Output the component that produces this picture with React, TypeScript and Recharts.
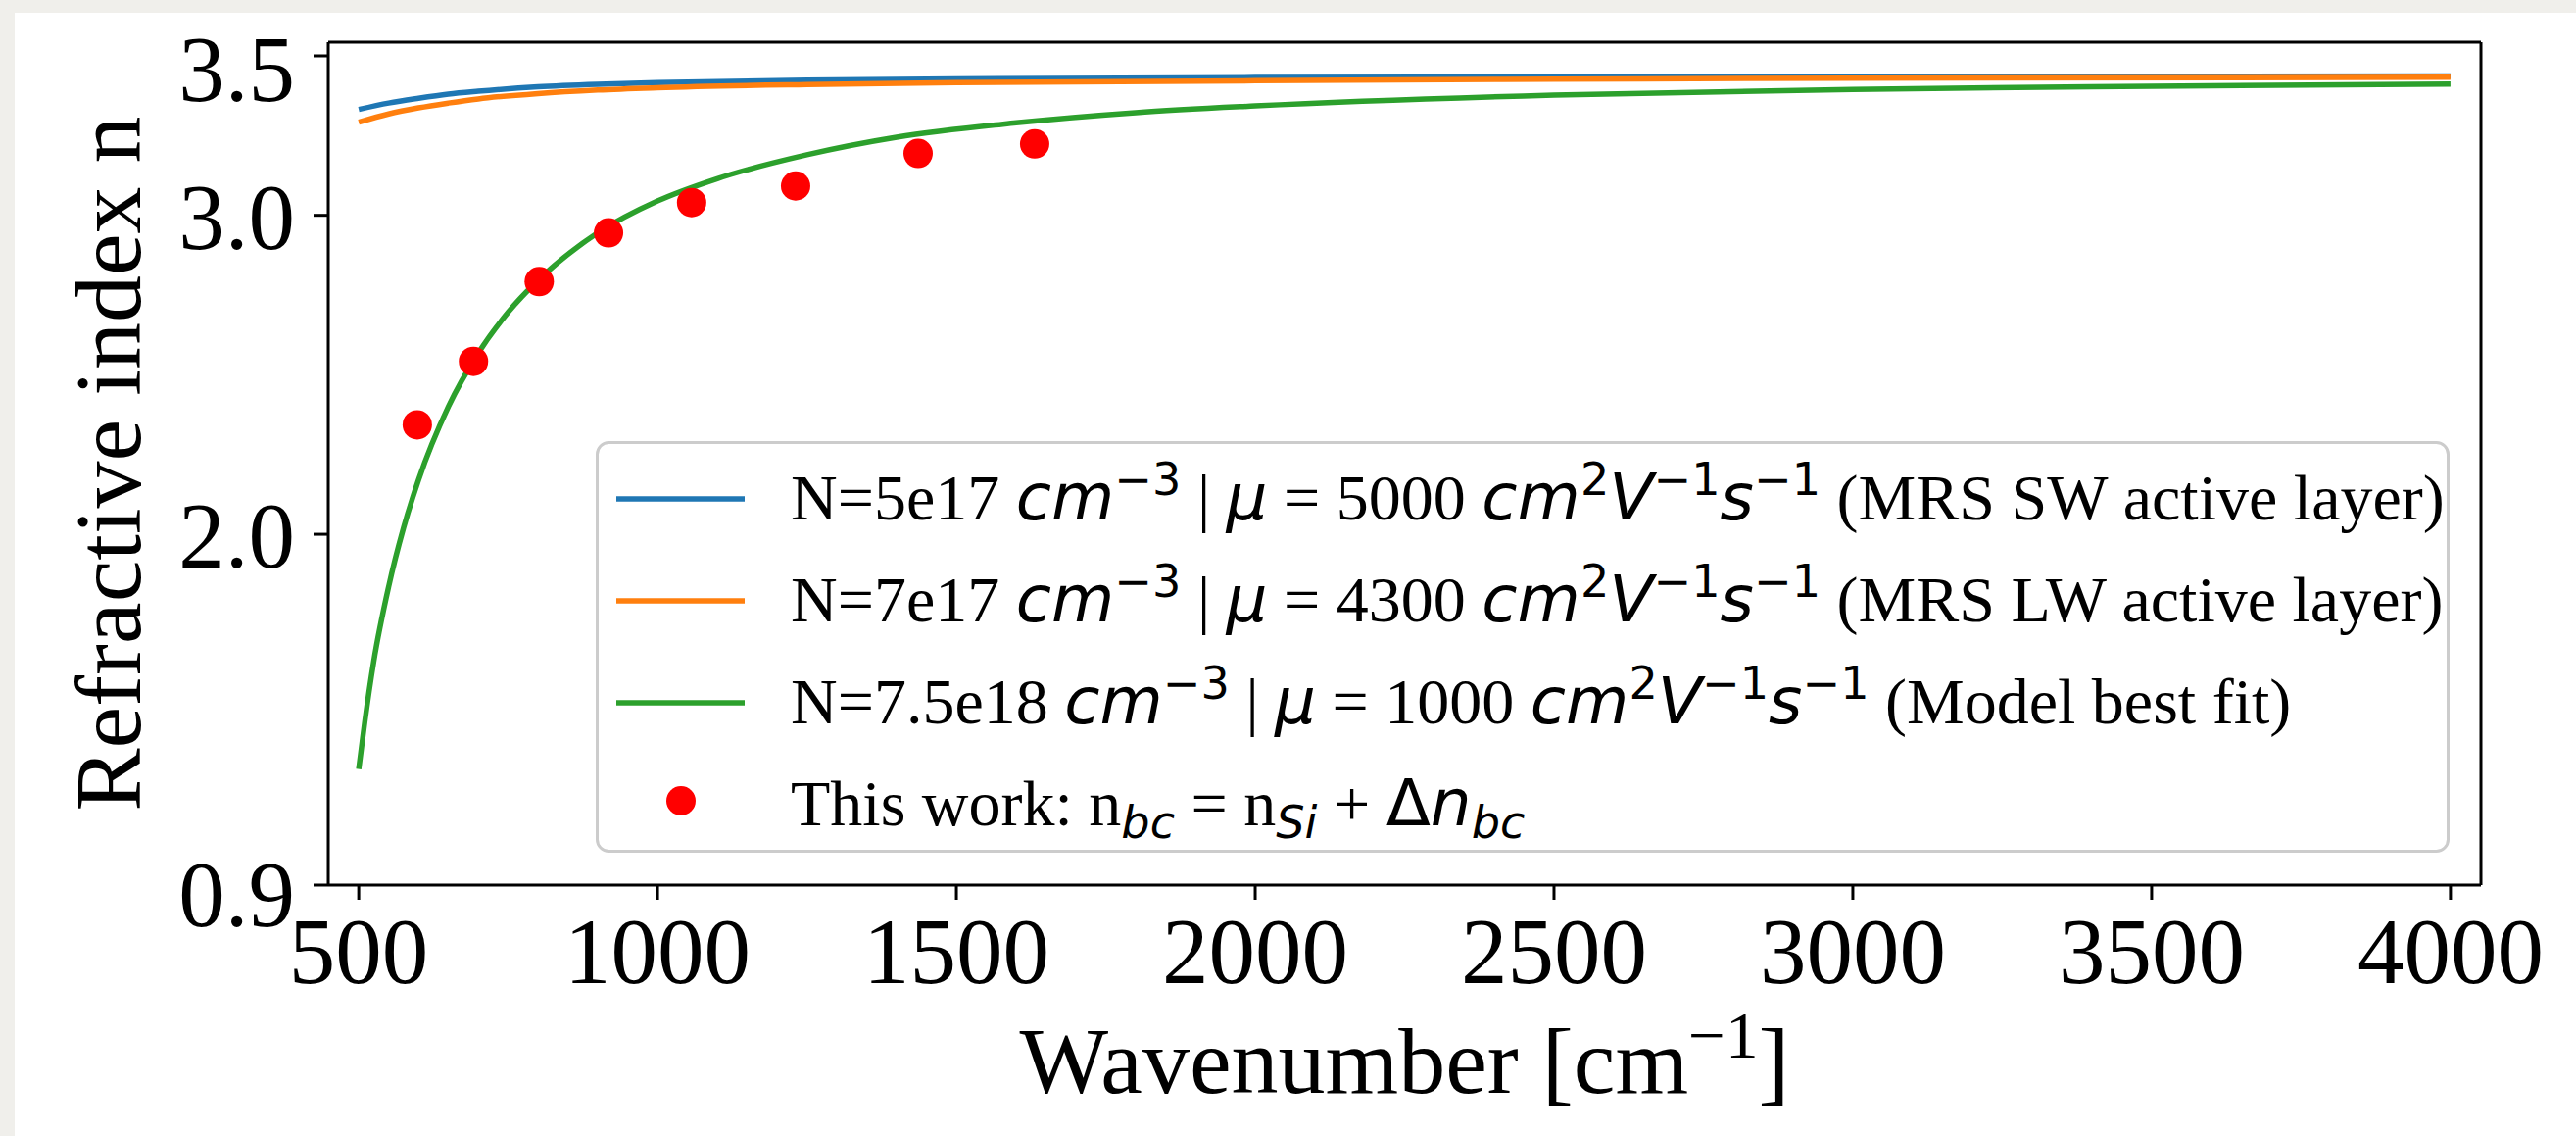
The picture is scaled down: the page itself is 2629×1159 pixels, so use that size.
import React from "react";
import { ComposedChart, Line, Scatter, XAxis, YAxis, Legend, ReferenceLine } from "recharts";

// wavenumber grid [cm^-1] for the two MRS curves
const mrsWavenumber = [500, 550, 600, 650, 700, 800, 900, 1000, 1250, 1500, 2000, 2500, 3000, 4000];
const nSW = [3.332, 3.352, 3.367, 3.38, 3.389, 3.403, 3.411, 3.416, 3.424, 3.428, 3.432, 3.434, 3.435, 3.437];
const nLW = [3.292, 3.318, 3.337, 3.352, 3.365, 3.382, 3.393, 3.4, 3.41, 3.416, 3.422, 3.427, 3.43, 3.433];

// model best fit, denser near the cut-off
const fitWavenumber = [500, 510, 525, 550, 575, 600, 650, 700, 750, 800, 900, 1000, 1100, 1250, 1400, 1600, 1800, 2000, 2500, 3000, 3500, 4000];
const nFit = [1.264, 1.41, 1.6, 1.835, 2.02, 2.17, 2.4, 2.568, 2.696, 2.796, 2.945, 3.045, 3.115, 3.19, 3.245, 3.29, 3.322, 3.343, 3.377, 3.395, 3.405, 3.412];

// this work
const measWavenumber = [598, 692, 802, 918, 1057, 1231, 1436, 1631];
const nMeas = [2.343, 2.542, 2.792, 2.945, 3.04, 3.092, 3.194, 3.224];

const xTicks = [500, 1000, 1500, 2000, 2500, 3000, 3500, 4000];
const yTicks = [0.9, 2.0, 3.0, 3.5];

const X_DOMAIN: [number, number] = [449, 4051];
const Y_DOMAIN: [number, number] = [0.9, 3.543];

const toRows = (xs: number[], ys: number[]) => xs.map((x, i) => ({ x, n: ys[i] }));

const swData = toRows(mrsWavenumber, nSW);
const lwData = toRows(mrsWavenumber, nLW);
const fitData = toRows(fitWavenumber, nFit);
const measData = toRows(measWavenumber, nMeas);

const SERIF = "'Liberation Serif', 'DejaVu Serif', serif";
const MATH = "'DejaVu Sans', sans-serif";

type Seg = { t: string; math?: boolean; up?: boolean; sup?: boolean; sub?: boolean };

const RichText = ({ x, y, segs, size, anchor }: { x: number; y: number; segs: Seg[]; size: number; anchor?: string }) => {
  let shift = 0;
  return (
    <text x={x} y={y} fontSize={size} fontFamily={SERIF} fill="#000" textAnchor={anchor} style={{ whiteSpace: "pre" }}>
      {segs.map((s, i) => {
        const target = s.sup ? -size * 0.38 : s.sub ? size * 0.2 : 0;
        const dy = target - shift;
        shift = target;
        return (
          <tspan
            key={i}
            dy={dy}
            fontSize={s.sup || s.sub ? size * 0.7 : size}
            fontFamily={s.math ? MATH : SERIF}
            fontStyle={s.math && !s.up ? "italic" : "normal"}
          >
            {s.t}
          </tspan>
        );
      })}
    </text>
  );
};

const mobility: Seg[] = [
  { t: "cm", math: true },
  { t: "2", math: true, up: true, sup: true },
  { t: "V", math: true },
  { t: "−1", math: true, up: true, sup: true },
  { t: "s", math: true },
  { t: "−1", math: true, up: true, sup: true },
];

const density = (n: string): Seg[] => [
  { t: `N=${n} ` },
  { t: "cm", math: true },
  { t: "−3", math: true, up: true, sup: true },
  { t: " | " },
  { t: "μ", math: true },
  { t: " = " },
];

const legendItems = [
  { color: "#1f77b4", kind: "line", segs: [...density("5e17"), { t: "5000 " }, ...mobility, { t: " (MRS SW active layer)" }] },
  { color: "#ff7f0e", kind: "line", segs: [...density("7e17"), { t: "4300 " }, ...mobility, { t: " (MRS LW active layer)" }] },
  { color: "#2ca02c", kind: "line", segs: [...density("7.5e18"), { t: "1000 " }, ...mobility, { t: " (Model best fit)" }] },
  {
    color: "#ff0000",
    kind: "dot",
    segs: [
      { t: "This work: n" },
      { t: "bc", math: true, sub: true },
      { t: " = n" },
      { t: "Si", math: true, sub: true },
      { t: " + " },
      { t: "Δ", math: true, up: true },
      { t: "n", math: true },
      { t: "bc", math: true, sub: true },
    ] as Seg[],
  },
];

const LegendBox = () => (
  <svg width={1892} height={420} style={{ display: "block" }}>
    <rect x={1.5} y={1.5} width={1889} height={417} rx={12} fill="#fff" fillOpacity={0.8} stroke="#cccccc" strokeWidth={3} />
    {legendItems.map((item, i) => {
      const cy = 59 + i * 104;
      return (
        <g key={i}>
          {item.kind === "line" ? (
            <line x1={21} x2={152} y1={cy} y2={cy} stroke={item.color} strokeWidth={5.5} />
          ) : (
            <circle cx={87} cy={cy - 4} r={15} fill={item.color} />
          )}
          <RichText x={199} y={cy + 21} segs={item.segs as Seg[]} size={66} />
        </g>
      );
    })}
  </svg>
);

const XTick = ({ x, y, payload }: any) => (
  <text x={x} y={y} dy={83} textAnchor="middle" fontSize={95} fontFamily={SERIF} fill="#000">
    {payload.value}
  </text>
);

// the original's old-style figures sit a little lower on the outer labels
const yLabelDrop = (v: number) => (v === 3.5 ? 12 : v === 0.9 ? 8 : 0);

const YTick = ({ x, y, payload }: any) => (
  <text x={x - 17} y={y} dy={34 + yLabelDrop(payload.value)} textAnchor="end" fontSize={95} fontFamily={SERIF} fill="#000">
    {Number(payload.value).toFixed(1)}
  </text>
);

const XTitle = ({ viewBox }: any) => (
  <RichText
    x={viewBox.x + viewBox.width / 2}
    y={viewBox.y + 212}
    anchor="middle"
    size={96}
    segs={[{ t: "Wavenumber [cm" }, { t: "−1", sup: true }, { t: "]" }]}
  />
);

const YTitle = ({ viewBox }: any) => {
  const cy = viewBox.y + viewBox.height / 2;
  return (
    <text transform={`translate(128, ${cy}) rotate(-90)`} textAnchor="middle" fontSize={96} fontFamily={SERIF} fill="#000">
      Refractive index n
    </text>
  );
};

const RedDot = (props: any) => <circle cx={props.cx} cy={props.cy} r={15} fill="#ff0000" />;

const axisStroke = { stroke: "#000", strokeWidth: 3 };

export default function App() {
  return (
    <div style={{ width: 2629, height: 1159, background: "#f0efeb", position: "relative", overflow: "hidden" }}>
      <style>{`html,body{margin:0;overflow:hidden}`}</style>
      <div style={{ position: "absolute", left: 15, top: 13, width: 2614, height: 1146, background: "#fff" }}>
        <ComposedChart width={2614} height={1146} margin={{ top: 30, right: 97, bottom: 56, left: 0 }}>
          <XAxis
            dataKey="x"
            type="number"
            domain={X_DOMAIN}
            ticks={xTicks}
            height={200}
            tickSize={15}
            axisLine={axisStroke}
            tickLine={axisStroke}
            tick={XTick}
            label={XTitle}
            allowDataOverflow
          />
          <YAxis
            dataKey="n"
            type="number"
            domain={Y_DOMAIN}
            ticks={yTicks}
            width={320}
            tickSize={15}
            axisLine={axisStroke}
            tickLine={axisStroke}
            tick={YTick}
            label={YTitle}
            allowDataOverflow
          />
          {/* top and right spines */}
          <ReferenceLine y={Y_DOMAIN[1]} stroke="#000" strokeWidth={3} ifOverflow="visible" />
          <ReferenceLine x={X_DOMAIN[1]} stroke="#000" strokeWidth={3} ifOverflow="visible" />
          <Line data={swData} dataKey="n" type="monotone" stroke="#1f77b4" strokeWidth={5.5} dot={false} activeDot={false} isAnimationActive={false} />
          <Line data={lwData} dataKey="n" type="monotone" stroke="#ff7f0e" strokeWidth={5.5} dot={false} activeDot={false} isAnimationActive={false} />
          <Line data={fitData} dataKey="n" type="monotone" stroke="#2ca02c" strokeWidth={5.5} dot={false} activeDot={false} isAnimationActive={false} />
          <Scatter data={measData} dataKey="n" shape={RedDot} isAnimationActive={false} />
          <Legend verticalAlign="middle" content={LegendBox} wrapperStyle={{ left: 593, top: 437, width: 1892, height: 420 }} />
        </ComposedChart>
      </div>
    </div>
  );
}
